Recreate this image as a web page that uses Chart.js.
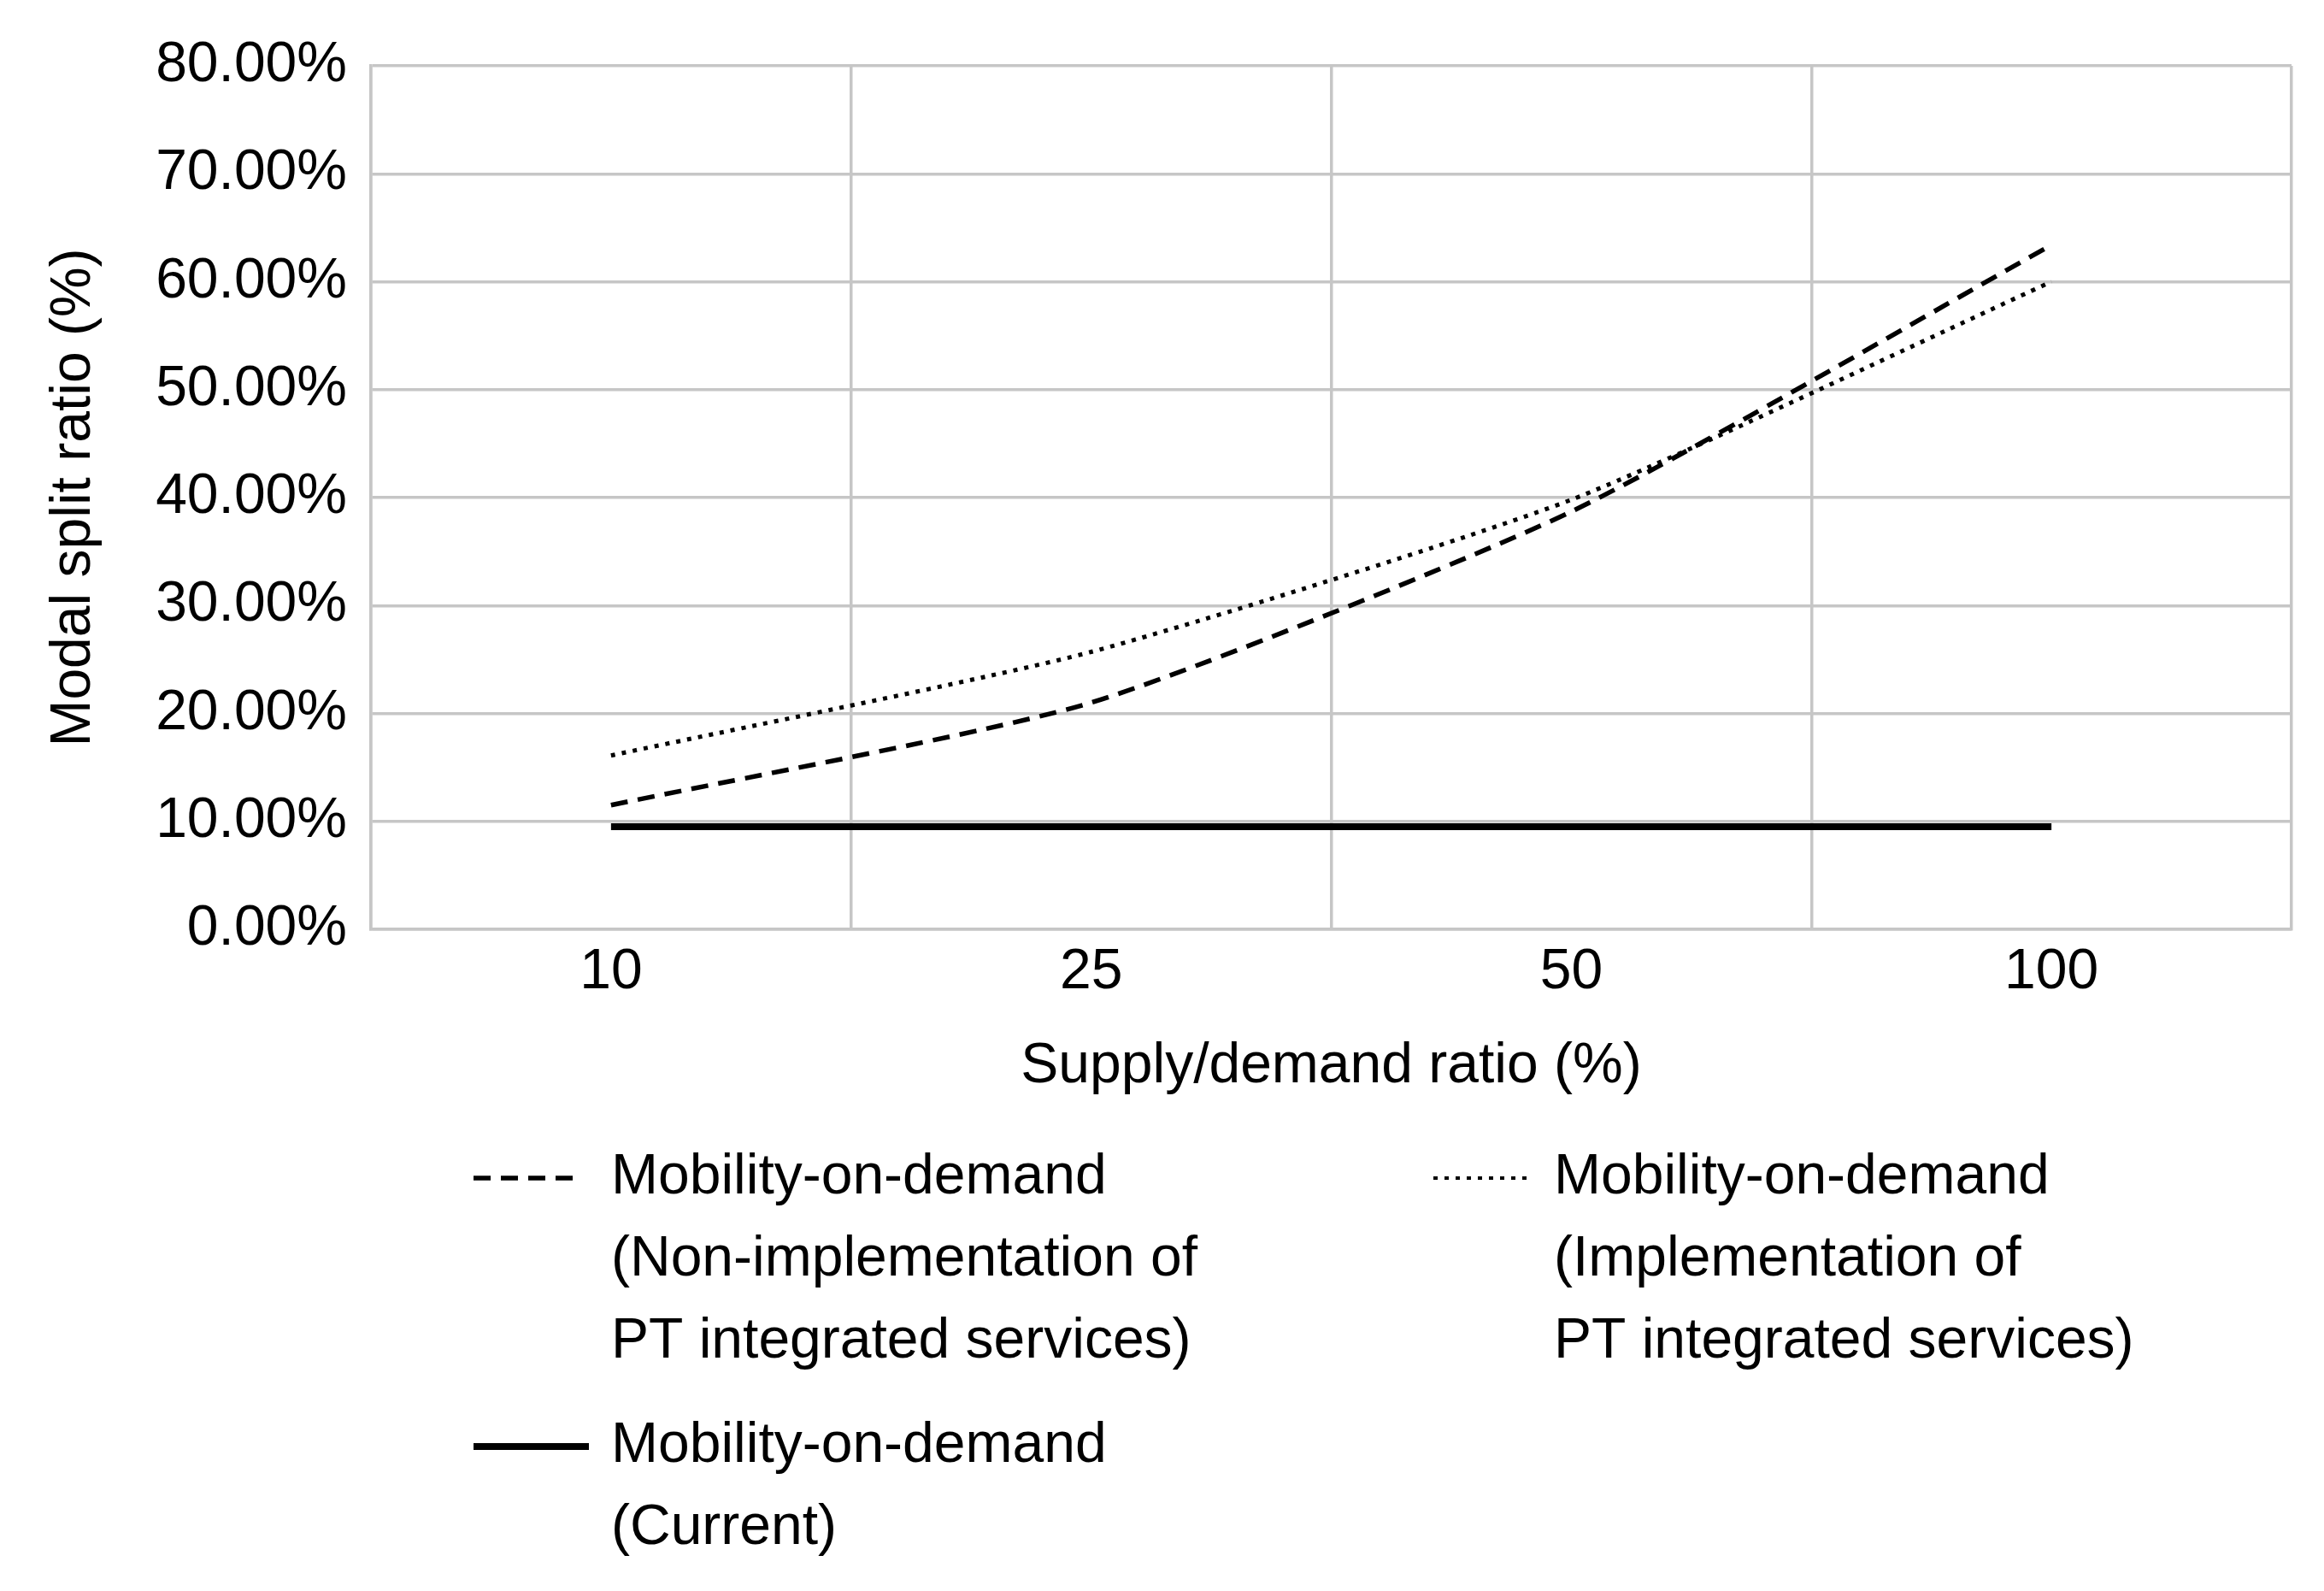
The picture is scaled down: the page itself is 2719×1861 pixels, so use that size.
<!DOCTYPE html>
<html lang="en">
<head>
    <meta charset="UTF-8">
    <title>Modal split ratio vs supply/demand ratio</title>
    <script src="https://cdn.jsdelivr.net/npm/chart.js"></script>
    <style>
        body { margin: 0; background: #fff; }
    </style>
</head>
<body>

    <canvas id="modalChart" width="2719" height="1861"></canvas>

    <script>
        // Supply/demand ratio categories (%)
        const ratios = ["10", "25", "50", "100"];

        // Modal split ratio (%)
        const nonIntegrated = [11.5, 21.0, 38.7, 63.4];
        const integrated = [16.1, 25.7, 39.8, 60.0];
        const current = [9.5, 9.5, 9.5, 9.5];

        const seriesNames = [
            ["Mobility-on-demand", "(Non-implementation of", "PT integrated services)"],
            ["Mobility-on-demand", "(Implementation of", "PT integrated services)"],
            ["Mobility-on-demand", "(Current)"]
        ];

        const yTicks = [0, 10, 20, 30, 40, 50, 60, 70, 80];

        const FONT = "'Liberation Sans', Arial, sans-serif";
        const GRID = "#c6c6c6";

        // Legend under the plot, two columns like the original figure
        const legendBelow = {
            id: "legendBelow",
            afterDraw(chart) {
                const ctx = chart.ctx;
                const area = chart.chartArea;
                const lineGap = 96;
                const spots = [
                    { x: area.left + 120, y: area.bottom + 291, len: 122 },
                    { x: area.left + 1243, y: area.bottom + 291, len: 115 },
                    { x: area.left + 120, y: area.bottom + 605, len: 135 }
                ];
                chart.data.datasets.forEach((ds, i) => {
                    const s = spots[i];
                    ctx.save();
                    ctx.strokeStyle = ds.borderColor;
                    ctx.lineWidth = i === 1 ? ds.borderWidth - 1 : ds.borderWidth;
                    ctx.setLineDash(ds.borderDash || []);
                    ctx.beginPath();
                    ctx.moveTo(s.x, s.y);
                    ctx.lineTo(s.x + s.len, s.y);
                    ctx.stroke();
                    ctx.setLineDash([]);
                    ctx.fillStyle = "#000";
                    ctx.font = "66px " + FONT;
                    ctx.textBaseline = "middle";
                    const textX = i === 1 ? s.x + 141 : area.left + 281;
                    ds.label.forEach((line, k) => {
                        ctx.fillText(line, textX, s.y + k * lineGap);
                    });
                    ctx.restore();
                });
            }
        };

        const ctx = document.getElementById("modalChart").getContext("2d");
        new Chart(ctx, {
            type: "line",
            data: {
                labels: ratios,
                datasets: [
                    {
                        label: seriesNames[0],
                        data: nonIntegrated,
                        borderColor: "#000",
                        borderWidth: 5.5,
                        borderDash: [20, 12],
                        pointRadius: 0,
                        tension: 0.2,
                        fill: false
                    },
                    {
                        label: seriesNames[1],
                        data: integrated,
                        borderColor: "#000",
                        borderWidth: 5,
                        borderDash: [5, 8],
                        pointRadius: 0,
                        tension: 0.2,
                        fill: false
                    },
                    {
                        label: seriesNames[2],
                        data: current,
                        borderColor: "#000",
                        borderWidth: 8,
                        pointRadius: 0,
                        tension: 0,
                        fill: false
                    }
                ]
            },
            options: {
                responsive: false,
                animation: false,
                devicePixelRatio: 1,
                layout: {
                    padding: { top: 77, right: 38, bottom: 554, left: 0 }
                },
                plugins: {
                    legend: { display: false },
                    tooltip: { enabled: false }
                },
                scales: {
                    x: {
                        offset: true,
                        grid: { offset: true, color: GRID, lineWidth: 3.5, drawTicks: false },
                        border: { color: GRID, width: 3.5 },
                        ticks: {
                            color: "#000",
                            padding: 11,
                            font: { family: FONT, size: 66 }
                        },
                        title: {
                            display: true,
                            text: "Supply/demand ratio (%)",
                            color: "#000",
                            padding: { top: 0, bottom: 20 },
                            font: { family: FONT, size: 66 }
                        },
                        afterFit(scale) { scale.height = 220; }
                    },
                    y: {
                        min: 0,
                        max: 80,
                        afterBuildTicks(scale) {
                            scale.ticks = yTicks.map(v => ({ value: v }));
                        },
                        grid: { color: GRID, lineWidth: 3.5, drawTicks: false },
                        border: { color: GRID, width: 3.5 },
                        ticks: {
                            color: "#000",
                            padding: 28,
                            font: { family: FONT, size: 66 },
                            callback: v => v.toFixed(2) + "%"
                        },
                        title: {
                            display: true,
                            text: "Modal split ratio (%)",
                            color: "#000",
                            padding: { top: 47, bottom: 0 },
                            font: { family: FONT, size: 66 }
                        },
                        afterFit(scale) { scale.width = 434; }
                    }
                }
            },
            plugins: [legendBelow]
        });
    </script>

</body>
</html>
